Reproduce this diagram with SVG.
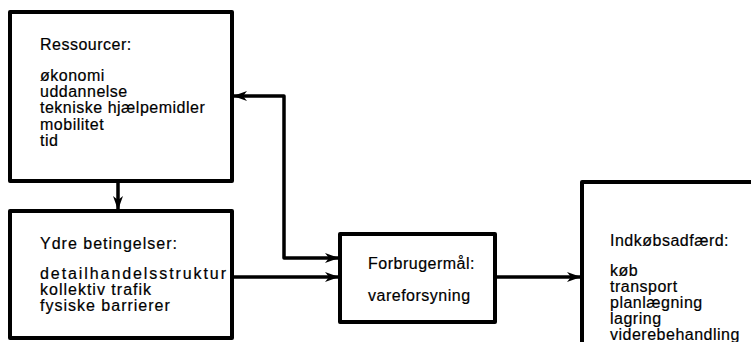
<svg xmlns="http://www.w3.org/2000/svg" width="751" height="342" viewBox="0 0 751 342">
<style>
.box{fill:#fff;stroke:#000;stroke-width:4;stroke-linejoin:round}
.con{fill:none;stroke:#000;stroke-width:3.5;stroke-linejoin:round}
text{font-family:"Liberation Sans",Arial,sans-serif;font-size:16px;letter-spacing:0.5px;fill:#000;stroke:#000;stroke-width:0.2}
.wide{letter-spacing:1px}
</style>
<defs>
<marker id="ah" viewBox="0 0 14 10" refX="13" refY="5" markerWidth="14" markerHeight="10" markerUnits="userSpaceOnUse" orient="auto-start-reverse">
<path d="M0,0 L14,5 L0,10 L4,5 z" fill="#000"/>
</marker>
</defs>
<rect width="751" height="342" fill="#fff"/>
<g id="connectors">
<path class="con" d="M118,181 V209" marker-end="url(#ah)"/>
<path class="con" d="M234,96 H284 V258 H338" marker-start="url(#ah)" marker-end="url(#ah)"/>
<path class="con" d="M232,277 H338" marker-end="url(#ah)"/>
<path class="con" d="M495,277 H580" marker-end="url(#ah)"/>
</g>
<g id="ressourcer">
<rect class="box" x="10" y="12" width="222" height="169"/>
<text x="40" y="50">Ressourcer:</text>
<text x="40" y="81">økonomi</text>
<text x="40" y="97">uddannelse</text>
<text x="40" y="113">tekniske hjælpemidler</text>
<text x="40" y="130">mobilitet</text>
<text x="40" y="146">tid</text>
</g>
<g id="ydre">
<rect class="box" x="10" y="211" width="222" height="127"/>
<text class="wide" x="40" y="249">Ydre betingelser:</text>
<text class="wide" x="40" y="279" textLength="187">detailhandelsstruktur</text>
<text class="wide" x="40" y="295">kollektiv trafik</text>
<text class="wide" x="40" y="311">fysiske barrierer</text>
</g>
<g id="forbrugermaal">
<rect class="box" x="340" y="234" width="155" height="88"/>
<text x="368" y="269">Forbrugermål:</text>
<text x="368" y="301">vareforsyning</text>
</g>
<g id="indkoeb">
<path class="box" d="M753,182 H582 V344"/>
<text x="610" y="246">Indkøbsadfærd:</text>
<text x="610" y="276">køb</text>
<text x="610" y="292">transport</text>
<text x="610" y="308">planlægning</text>
<text x="610" y="324">lagring</text>
<text x="610" y="340">viderebehandling</text>
</g>
</svg>
